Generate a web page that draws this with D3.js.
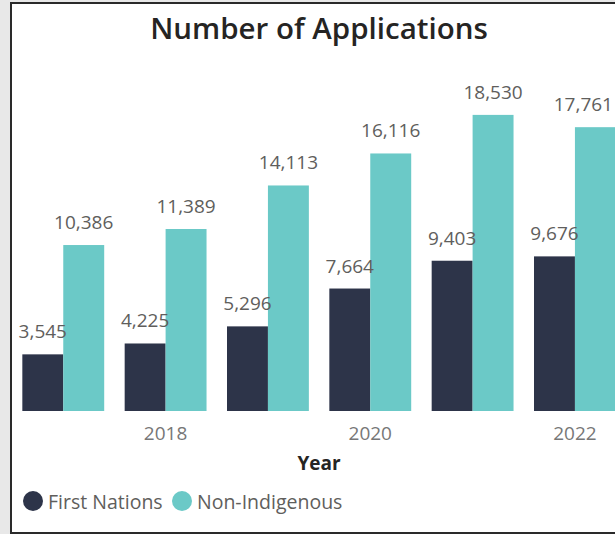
<!DOCTYPE html>
<html>
<head>
<meta charset="utf-8">
<script src="https://cdn.jsdelivr.net/npm/d3@7"></script>
<style>
  body { margin: 0; background: #e8e8e8; }
  svg { display: block; font-family: "Segoe UI", "Open Sans", sans-serif; }
</style>
</head>
<body>
<script>
//data
var years = ["2017", "2018", "2019", "2020", "2021", "2022"];
var series = ["First Nations", "Non-Indigenous"];
var firstNations = [3545, 4225, 5296, 7664, 9403, 9676];
var nonIndigenous = [10386, 11389, 14113, 16116, 18530, 17761];
var tickYears = ["2018", "2020", "2022"];
var colors = ["#2d3449", "#6bc9c7"];

var width = 615, height = 534;
var baseline = 411;

var svg = d3.select("body").append("svg")
    .attr("width", width)
    .attr("height", height);

//card background + border
svg.append("rect")
    .attr("x", 11).attr("y", 3)
    .attr("width", width + 20).attr("height", 530)
    .attr("fill", "white")
    .attr("stroke", "#2a2a2a")
    .attr("stroke-width", 2);

//title
svg.append("text")
    .attr("x", 319).attr("y", 39)
    .attr("text-anchor", "middle")
    .style("font-size", "29.5px")
    .style("font-weight", 600)
    .style("fill", "#252423")
    .text("Number of Applications");

//scales
var x = d3.scaleBand()
    .domain(years)
    .range([12.1, 626.1])
    .paddingInner(0.2)
    .paddingOuter(0.1);

var xs = d3.scaleBand()
    .domain(series)
    .range([0, x.bandwidth()]);

var y = d3.scaleLinear()
    .domain([0, 20000])
    .range([baseline, 91.4]);

var rows = years.map(function(yr, i) {
    return { year: yr, values: [firstNations[i], nonIndigenous[i]] };
});

var groups = svg.selectAll("g.year")
    .data(rows)
    .enter().append("g")
    .attr("class", "year")
    .attr("transform", function(d) { return "translate(" + x(d.year) + ",0)"; });

var fmt = d3.format(",");

groups.selectAll("rect")
    .data(function(d) { return d.values.map(function(v, i) { return { s: series[i], v: v, i: i }; }); })
    .enter().append("rect")
    .attr("x", function(d) { return xs(d.s); })
    .attr("y", function(d) { return y(d.v); })
    .attr("width", xs.bandwidth())
    .attr("height", function(d) { return baseline - y(d.v); })
    .attr("fill", function(d) { return colors[d.i]; });

groups.selectAll("text.lbl")
    .data(function(d) { return d.values.map(function(v, i) { return { s: series[i], v: v }; }); })
    .enter().append("text")
    .attr("class", "lbl")
    .attr("x", function(d) { return xs(d.s) + xs.bandwidth() / 2; })
    .attr("y", function(d) { return y(d.v) - 16; })
    .attr("text-anchor", "middle")
    .style("font-size", "19px")
    .style("fill", "#605e5c")
    .text(function(d) { return fmt(d.v); });

//keep labels inside the visible area (like the original, which nudges them in)
svg.selectAll("text.lbl").each(function() {
    var b = this.getBoundingClientRect();
    var over = b.right - (width - 2);
    if (over > 0) {
        var t = d3.select(this);
        t.attr("x", +t.attr("x") - over);
    }
});

//x axis (labels only, every other year)
var xAxis = d3.axisBottom(x)
    .tickValues(tickYears)
    .tickSize(0)
    .tickPadding(0);

var gx = svg.append("g")
    .attr("transform", "translate(0," + baseline + ")")
    .call(xAxis);
gx.select(".domain").remove();
gx.selectAll("text")
    .attr("dy", null)
    .attr("y", 28.5)
    .style("font-family", "\"Segoe UI\", \"Open Sans\", sans-serif")
    .style("font-size", "19px")
    .style("fill", "#777777");

//axis title
svg.append("text")
    .attr("x", 319).attr("y", 470)
    .attr("text-anchor", "middle")
    .style("font-size", "19px")
    .style("font-weight", 700)
    .style("fill", "#252423")
    .text("Year");

//legend
var legendX = [33, 182];
var legend = svg.selectAll("g.legend")
    .data(series)
    .enter().append("g")
    .attr("class", "legend")
    .attr("transform", function(d, i) { return "translate(" + legendX[i] + ",501)"; });

legend.append("circle")
    .attr("r", 10)
    .attr("fill", function(d, i) { return colors[i]; });

legend.append("text")
    .attr("x", 15)
    .attr("y", 8)
    .style("font-size", "19.5px")
    .style("fill", "#605e5c")
    .text(function(d) { return d; });
</script>
</body>
</html>
